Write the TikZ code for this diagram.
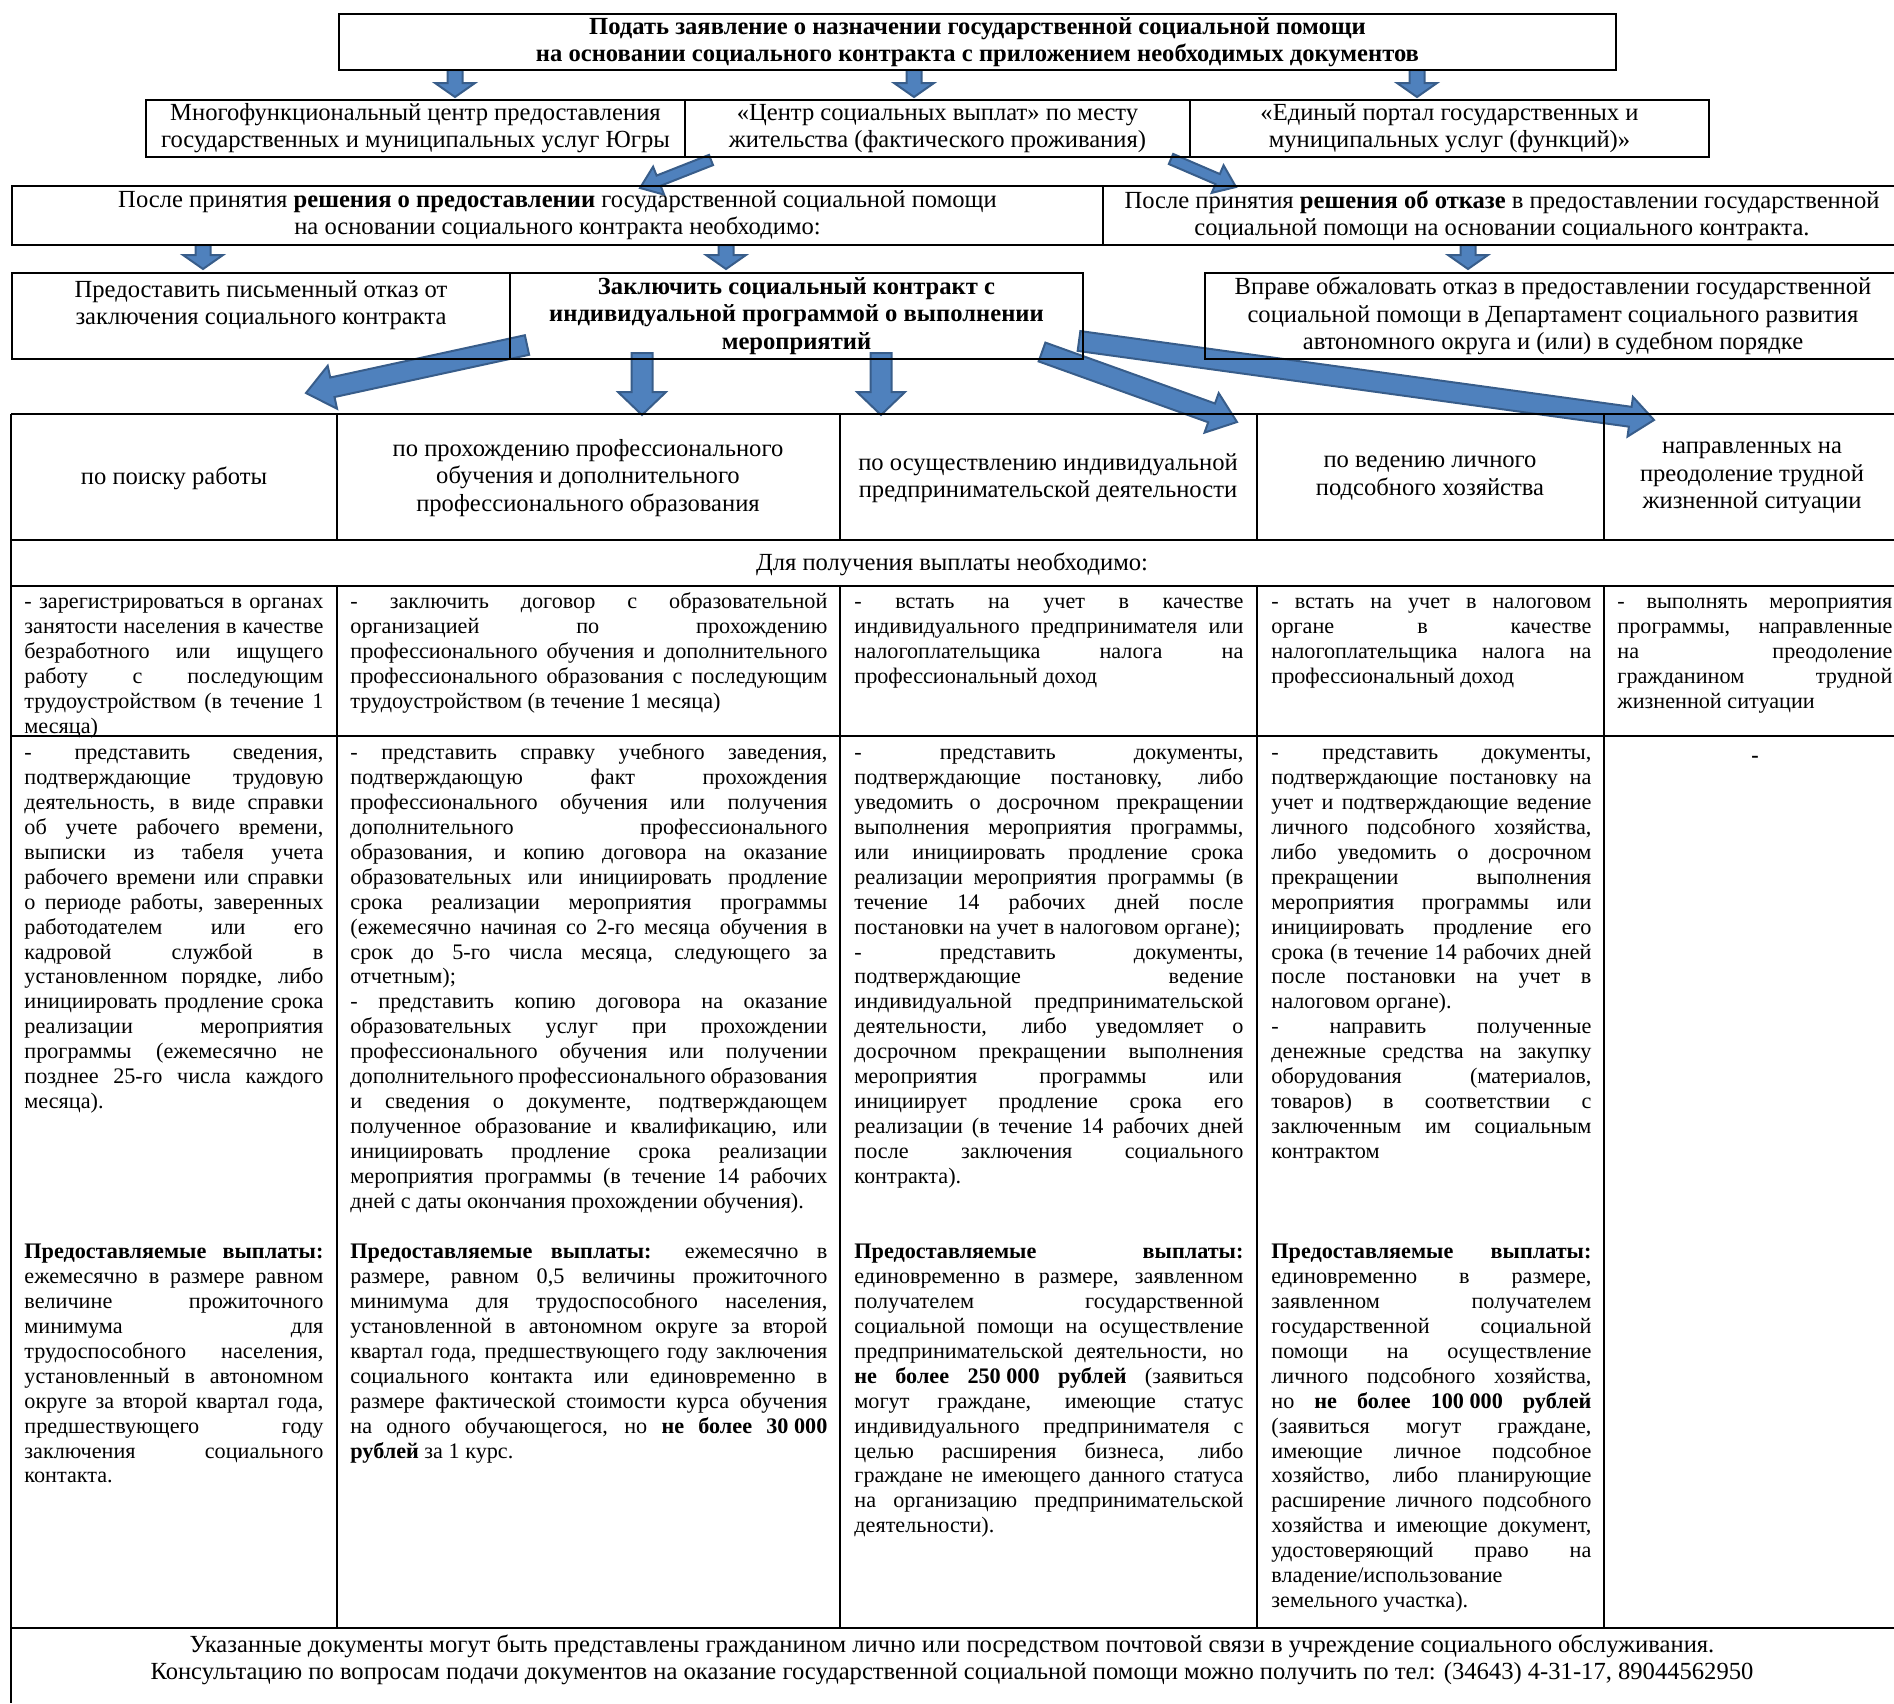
\documentclass[tikz,border=0pt]{standalone}
\usepackage{fontspec}
\setmainfont{Liberation Serif}
\usetikzlibrary{calc}
\setlength{\parindent}{0pt}
\definecolor{arrowFill}{HTML}{4F81BD}
\definecolor{arrowEdge}{HTML}{385D8A}
\newcommand{\headSize}[0]{\fontsize{12.3}{13.6}\selectfont}
\newcommand{\bodySize}[0]{\fontsize{11.1}{12.45}\selectfont}
\newcommand{\thinSpace}[0]{\hspace{0.25em}}
\newcommand{\blockArrow}[5]{%
  \coordinate (neck) at ($(#2)!#5!(#1)$);
  \filldraw[blue arrow] ($(#1)!#3!90:(#2)$) -- ($(neck)!#3!-90:(#1)$)
    -- ($(neck)!#4!-90:(#1)$) -- (#2) -- ($(neck)!#4!90:(#1)$)
    -- ($(neck)!#3!90:(#1)$) -- ($(#1)!#3!-90:(#2)$) -- cycle;
}

\begin{document}
\begin{tikzpicture}[x=0.5pt, y=-0.5pt]
  \tikzset{box/.style={draw, line width=1pt, inner sep=0pt, anchor=north west, align=center, font=\headSize},
    box size/.style 2 args={minimum width=#1*0.5pt, minimum height=#2*0.5pt},
    blue arrow/.style={fill=arrowFill, draw=arrowEdge, line width=1pt, line join=miter},
    grid/.style={line width=0.9pt},
    cell/.style={anchor=north west, inner sep=0pt, align=justify, font=\bodySize},
    head/.style={inner sep=0pt, align=center, font=\headSize}}
  \useasboundingbox (0,0) rectangle (1894,1703);

  \coordinate (T-1) at (455,70);  \coordinate (H-1) at (455,97);
  \coordinate (T-2) at (914,70);  \coordinate (H-2) at (914,97);
  \coordinate (T-3) at (1417,70); \coordinate (H-3) at (1417,97);
  \coordinate (T-4) at (711,160); \coordinate (H-4) at (640,188);
  \coordinate (T-5) at (1171,159); \coordinate (H-5) at (1236,187);
  \coordinate (T-6) at (203,245); \coordinate (H-6) at (203,269);
  \coordinate (T-7) at (726,245); \coordinate (H-7) at (726,269);
  \coordinate (T-8) at (1468,245); \coordinate (H-8) at (1468,269);
  \coordinate (T-9) at (527,345); \coordinate (H-9) at (306,393);
  \coordinate (T-10) at (642,353); \coordinate (H-10) at (642,415);
  \coordinate (T-11) at (881,353); \coordinate (H-11) at (881,415);
  \coordinate (T-12) at (1042,352); \coordinate (H-12) at (1237,422);
  \coordinate (T-13) at (1079,341); \coordinate (H-13) at (1654,420);

  \blockArrow{T-1}{H-1}{3.75pt}{10pt}{7pt}
  \blockArrow{T-2}{H-2}{3.75pt}{10pt}{7pt}
  \blockArrow{T-3}{H-3}{3.75pt}{10pt}{7pt}
  \blockArrow{T-4}{H-4}{2.75pt}{7.5pt}{10pt}
  \blockArrow{T-5}{H-5}{2.75pt}{7.5pt}{10pt}
  \blockArrow{T-6}{H-6}{3.75pt}{10pt}{7pt}
  \blockArrow{T-7}{H-7}{3.75pt}{10pt}{7pt}
  \blockArrow{T-8}{H-8}{3.75pt}{10pt}{7pt}
  \blockArrow{T-9}{H-9}{5pt}{11pt}{13.5pt}
  \blockArrow{T-10}{H-10}{5.25pt}{12pt}{11.5pt}
  \blockArrow{T-11}{H-11}{5.25pt}{12pt}{11.5pt}
  \blockArrow{T-12}{H-12}{5pt}{10.5pt}{13.5pt}
  \blockArrow{T-13}{H-13}{5pt}{10pt}{12pt}

  \node[box, box size={1277}{56}, font=\headSize\bfseries] (Top) at (338,13)
    {Подать заявление о назначении государственной социальной помощи\\
     на основании социального контракта с приложением необходимых документов};
  \node[box, box size={539}{57}] (Box-2-1) at (145,99)
    {Многофункциональный центр предоставления\\ государственных и муниципальных услуг Югры};
  \node[box, box size={505}{57}] (Box-2-2) at (684,99)
    {«Центр социальных выплат» по месту\\ жительства (фактического проживания)};
  \node[box, box size={519}{57}] (Box-2-3) at (1189,99)
    {«Единый портал государственных и\\ муниципальных услуг (функций)»};
  \node[box, box size={1091}{59}] (Box-3-1) at (11,185)
    {После принятия \textbf{решения о предоставлении} государственной социальной помощи\\
     на основании социального контракта необходимо:};
  \node[box, box size={798}{59}] (Box-3-2) at (1102,185)
    {После принятия \textbf{решения об отказе} в предоставлении государственной\\
     социальной помощи на основании социального контракта.};
  \node[box, box size={498}{86}] (Box-4-1) at (11,272)
    {Предоставить письменный отказ от\\ заключения социального контракта\\ \mbox{}};
  \node[box, box size={573}{86}, font=\headSize\bfseries] (Box-4-2) at (509,272)
    {Заключить социальный контракт с\\ индивидуальной программой о выполнении\\ мероприятий};
  \node[box, box size={696}{86}] (Box-4-3) at (1204,272)
    {Вправе обжаловать отказ в предоставлении государственной\\
     социальной помощи в Департамент социального развития\\
     автономного округа и (или) в судебном порядке};

  \draw[grid] (11,414) -- (1900,414) (11,540) -- (1900,540) (11,586) -- (1900,586)
    (11,736) -- (1900,736) (11,1628) -- (1900,1628) (11,414) -- (11,1703);
  \foreach \x in {337,840,1257,1604}
    \draw[grid] (\x,414) -- (\x,540) (\x,586) -- (\x,1628);

  \node[head] (Head-1) at (174,478) {по поиску работы};
  \node[head] (Head-2) at (588,478) {по прохождению профессионального\\ обучения и дополнительного\\ профессионального образования};
  \node[head] (Head-3) at (1048,478) {по осуществлению индивидуальной\\ предпринимательской деятельности};
  \node[head] (Head-4) at (1430,478) {по ведению личного\\ подсобного хозяйства};
  \node[head] (Head-5) at (1752,478) {направленных на\\ преодоление трудной\\ жизненной ситуации};
  \node[head] (Need) at (952,564) {Для получения выплаты необходимо:};

  \node[cell, text width=149.5pt] (Cell-A-1) at (24,591)
    {\strut - зарегистрироваться в органах\linebreak занятости населения в качестве\linebreak
     безработного или ищущего\linebreak работу с последующим\linebreak
     трудоустройством (в течение 1\linebreak месяца)};
  \node[cell, text width=238.5pt] (Cell-A-2) at (350,591)
    {\strut - заключить договор с образовательной\linebreak организацией по прохождению\linebreak
     профессионального обучения и дополнительного\linebreak
     профессионального образования с последующим\linebreak
     трудоустройством (в течение 1 месяца)};
  \node[cell, text width=194.5pt] (Cell-A-3) at (854,591)
    {\strut - встать на учет в качестве\linebreak индивидуального предпринимателя или\linebreak
     налогоплательщика налога на\linebreak профессиональный доход};
  \node[cell, text width=160pt] (Cell-A-4) at (1271,591)
    {\strut - встать на учет в налоговом\linebreak органе в качестве\linebreak
     налогоплательщика налога на\linebreak профессиональный доход};
  \node[cell, text width=137.5pt] (Cell-A-5) at (1617,591)
    {\strut - выполнять мероприятия\linebreak программы, направленные\linebreak
     на преодоление\linebreak гражданином трудной\linebreak жизненной ситуации};

  \node[cell, text width=149.5pt] (Cell-B-1) at (24,742)
    {\strut - представить сведения,\linebreak подтверждающие трудовую\linebreak
     деятельность, в виде справки\linebreak об учете рабочего времени,\linebreak
     выписки из табеля учета\linebreak рабочего времени или справки\linebreak
     о периоде работы, заверенных\linebreak работодателем или его\linebreak
     кадровой службой в\linebreak установленном порядке, либо\linebreak
     инициировать продление срока\linebreak реализации мероприятия\linebreak
     программы (ежемесячно не\linebreak позднее 25-го числа каждого\linebreak месяца).};
  \node[cell, text width=238.5pt] (Cell-B-2) at (350,742)
    {\strut - представить справку учебного заведения,\linebreak
     подтверждающую факт прохождения\linebreak
     профессионального обучения или получения\linebreak
     дополнительного профессионального\linebreak
     образования, и копию договора на оказание\linebreak
     образовательных или инициировать продление\linebreak
     срока реализации мероприятия программы\linebreak
     (ежемесячно начиная со 2-го месяца обучения в\linebreak
     срок до 5-го числа месяца, следующего за\linebreak отчетным);\par
     - представить копию договора на оказание\linebreak
     образовательных услуг при прохождении\linebreak
     профессионального обучения или получении\linebreak
     дополнительного профессионального образования\linebreak
     и сведения о документе, подтверждающем\linebreak
     полученное образование и квалификацию, или\linebreak
     инициировать продление срока реализации\linebreak
     мероприятия программы (в течение 14 рабочих\linebreak
     дней с даты окончания прохождении обучения).};
  \node[cell, text width=194.5pt] (Cell-B-3) at (854,742)
    {\strut - представить документы,\linebreak подтверждающие постановку, либо\linebreak
     уведомить о досрочном прекращении\linebreak выполнения мероприятия программы,\linebreak
     или инициировать продление срока\linebreak реализации мероприятия программы (в\linebreak
     течение 14 рабочих дней после\linebreak постановки на учет в налоговом органе);\par
     - представить документы,\linebreak подтверждающие ведение\linebreak
     индивидуальной предпринимательской\linebreak деятельности, либо уведомляет о\linebreak
     досрочном прекращении выполнения\linebreak мероприятия программы или\linebreak
     инициирует продление срока его\linebreak реализации (в течение 14 рабочих дней\linebreak
     после заключения социального\linebreak контракта).};
  \node[cell, text width=160pt] (Cell-B-4) at (1271,742)
    {\strut - представить документы,\linebreak подтверждающие постановку на\linebreak
     учет и подтверждающие ведение\linebreak личного подсобного хозяйства,\linebreak
     либо уведомить о досрочном\linebreak прекращении выполнения\linebreak
     мероприятия программы или\linebreak инициировать продление его\linebreak
     срока (в течение 14 рабочих дней\linebreak после постановки на учет в\linebreak
     налоговом органе).\par
     - направить полученные\linebreak денежные средства на закупку\linebreak
     оборудования (материалов,\linebreak товаров) в соответствии с\linebreak
     заключенным им социальным\linebreak контрактом};
  \node[head, font=\bodySize\bfseries] (Cell-B-5) at (1755,759) {-};

  \node[cell, text width=149.5pt] (Pay-1) at (24,1241)
    {\strut\textbf{Предоставляемые выплаты:}\linebreak ежемесячно в размере равном\linebreak
     величине прожиточного\linebreak минимума для\linebreak трудоспособного населения,\linebreak
     установленный в автономном\linebreak округе за второй квартал года,\linebreak
     предшествующего году\linebreak заключения социального\linebreak контакта.};
  \node[cell, text width=238.5pt] (Pay-2) at (350,1241)
    {\strut\textbf{Предоставляемые выплаты:} ежемесячно в\linebreak
     размере, равном 0,5 величины прожиточного\linebreak
     минимума для трудоспособного населения,\linebreak
     установленной в автономном округе за второй\linebreak
     квартал года, предшествующего году заключения\linebreak
     социального контакта или единовременно в\linebreak
     размере фактической стоимости курса обучения\linebreak
     на одного обучающегося, но \textbf{не более 30\thinSpace000}\linebreak
     \textbf{рублей} за 1 курс.};
  \node[cell, text width=194.5pt] (Pay-3) at (854,1241)
    {\strut\textbf{Предоставляемые выплаты:}\linebreak единовременно в размере, заявленном\linebreak
     получателем государственной\linebreak социальной помощи на осуществление\linebreak
     предпринимательской деятельности, но\linebreak
     \textbf{не более 250\thinSpace000 рублей} (заявиться\linebreak
     могут граждане, имеющие статус\linebreak индивидуального предпринимателя с\linebreak
     целью расширения бизнеса, либо\linebreak граждане не имеющего данного статуса\linebreak
     на организацию предпринимательской\linebreak деятельности).};
  \node[cell, text width=160pt] (Pay-4) at (1271,1241)
    {\strut\textbf{Предоставляемые выплаты:}\linebreak единовременно в размере,\linebreak
     заявленном получателем\linebreak государственной социальной\linebreak
     помощи на осуществление\linebreak личного подсобного хозяйства,\linebreak
     но \textbf{не более 100\thinSpace000 рублей}\linebreak (заявиться могут граждане,\linebreak
     имеющие личное подсобное\linebreak хозяйство, либо планирующие\linebreak
     расширение личного подсобного\linebreak хозяйства и имеющие документ,\linebreak
     удостоверяющий право на\linebreak владение/использование\linebreak земельного участка).};

  \node[head, anchor=north] (Footer) at (952,1634)
    {Указанные документы могут быть представлены гражданином лично или посредством почтовой связи в учреждение социального обслуживания.\\
     Консультацию по вопросам подачи документов на оказание государственной социальной помощи можно получить по тел: (34643) 4-31-17, 89044562950};
\end{tikzpicture}
\end{document}
